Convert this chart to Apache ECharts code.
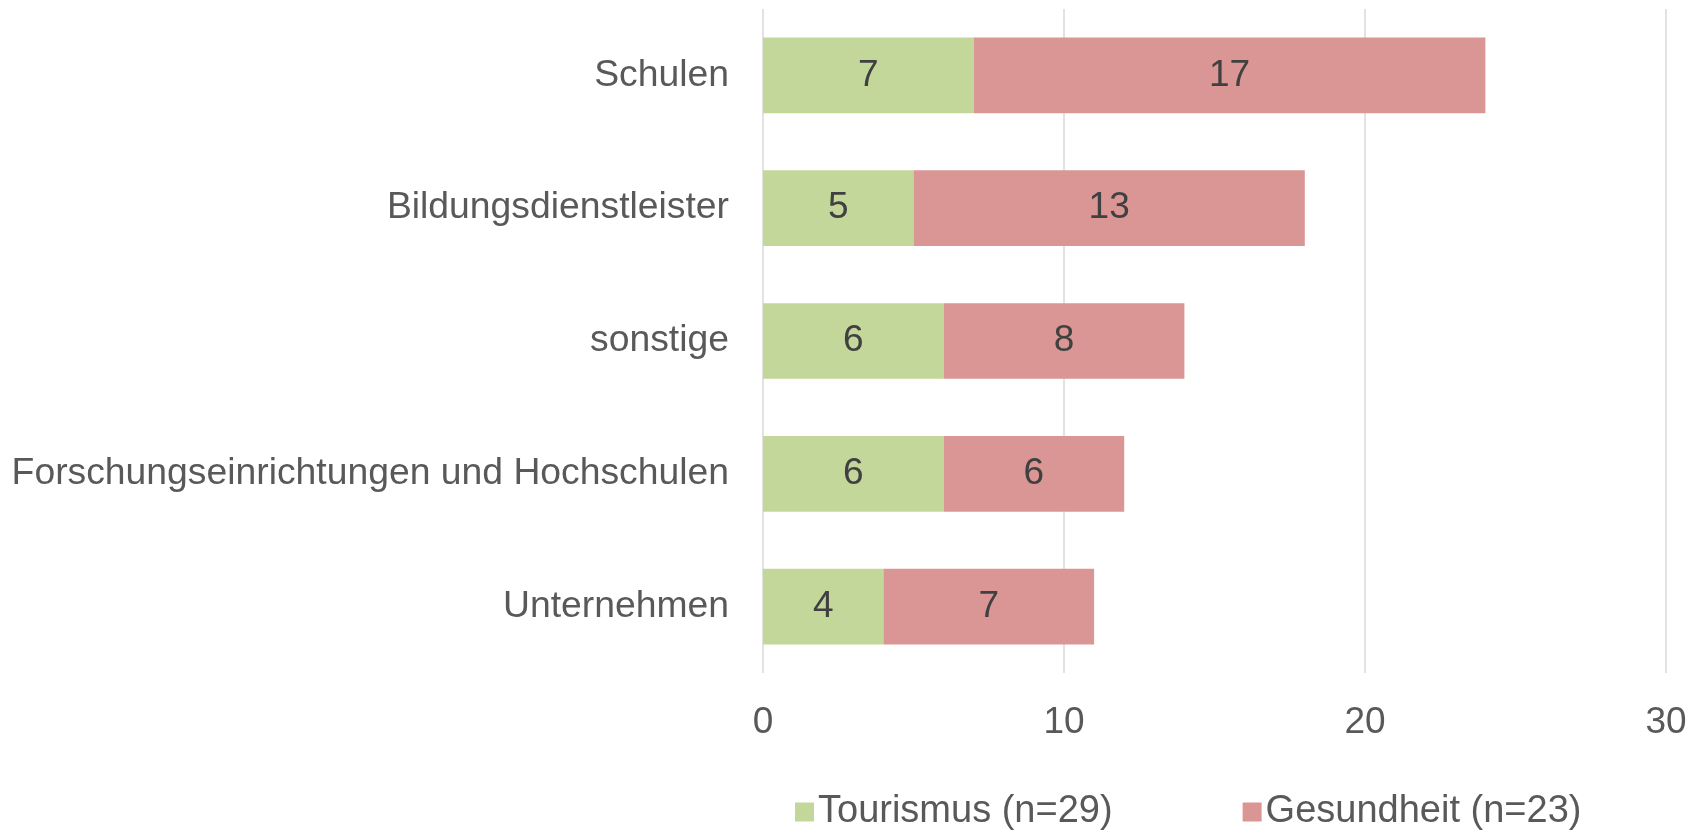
<!DOCTYPE html>
<html>
<head>
<meta charset="utf-8">
<script src="https://cdn.jsdelivr.net/npm/echarts@6/dist/echarts.min.js"></script>
<style>
  html, body { margin: 0; padding: 0; background: #ffffff; }
  #chart { width: 1705px; height: 831px; }
</style>
</head>
<body>
<div id="chart"></div>
<script>
// Kategorien (von oben nach unten)
var categories = ['Schulen', 'Bildungsdienstleister', 'sonstige', 'Forschungseinrichtungen und Hochschulen', 'Unternehmen']
var seriesNames = ['Tourismus (n=29)', 'Gesundheit (n=23)']
var tourismus = [7, 5, 6, 6, 4]
var gesundheit = [17, 13, 8, 6, 7]
var xTicks = [0, 10, 20, 30]

var font = 'Liberation Sans, Arial, sans-serif'
var labelStyle = {
  show: true,
  position: 'inside',
  color: '#404040',
  fontSize: 37,
  fontFamily: font
}

var myChart = echarts.init(document.getElementById('chart'))
myChart.setOption({
  animation: false,
  color: ['#c4d79b', '#da9694'],
  grid: {
    left: 763,
    right: 39,
    top: 9,
    bottom: 158
  },
  legend: {
    data: seriesNames,
    left: 790,
    top: 788,
    itemWidth: 19,
    itemHeight: 19,
    itemGap: 130,
    icon: 'rect',
    textStyle: {
      color: '#595959',
      fontSize: 38,
      fontFamily: font,
      padding: [0, 0, 0, -1]
    }
  },
  xAxis: {
    type: 'value',
    min: xTicks[0],
    max: xTicks[xTicks.length - 1],
    interval: 10,
    axisLine: { show: false },
    axisTick: { show: false },
    splitLine: { lineStyle: { color: '#d9d9d9', width: 1.5 } },
    axisLabel: {
      color: '#595959',
      fontSize: 37,
      fontFamily: font,
      margin: 31
    }
  },
  yAxis: {
    type: 'category',
    inverse: true,
    data: categories,
    axisLine: { show: false },
    axisTick: { show: false },
    axisLabel: {
      color: '#595959',
      fontSize: 37.3,
      fontFamily: font,
      margin: 34
    }
  },
  series: [
    {
      name: seriesNames[0],
      type: 'bar',
      stack: 'total',
      barCategoryGap: '43%',
      data: tourismus,
      label: labelStyle
    },
    {
      name: seriesNames[1],
      type: 'bar',
      stack: 'total',
      barCategoryGap: '43%',
      data: gesundheit,
      label: labelStyle
    }
  ]
})
</script>
</body>
</html>
